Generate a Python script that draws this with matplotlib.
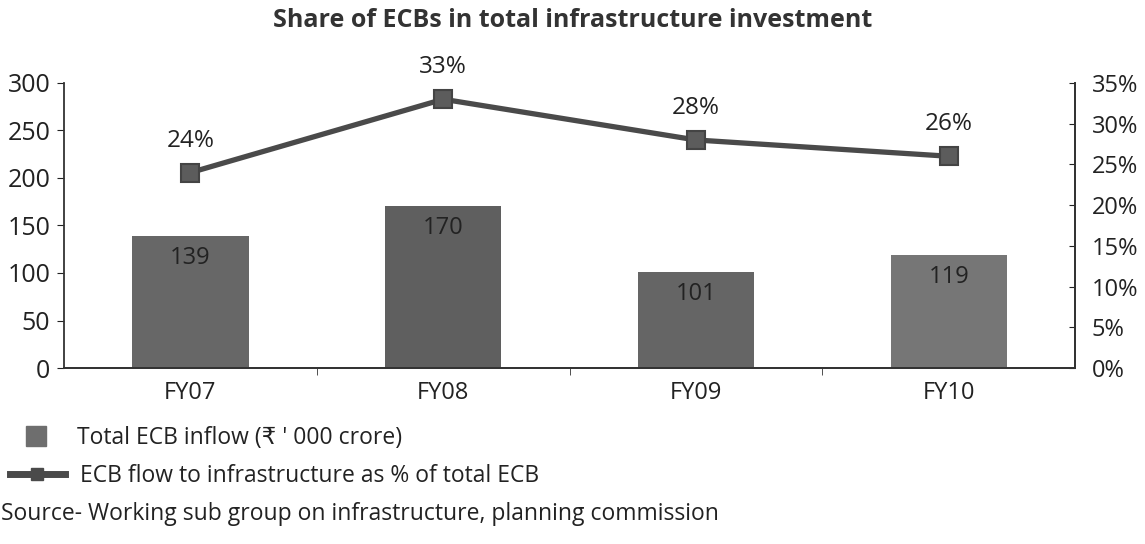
import matplotlib.pyplot as plt
import numpy as np
from matplotlib.lines import Line2D
from matplotlib.ticker import FuncFormatter

plt.rcParams['font.family'] = ['Open Sans', 'DejaVu Sans']

# ── Data ────────────────────────────────────────────────────────────
years = ["FY07", "FY08", "FY09", "FY10"]
ecb_inflow = [139, 170, 101, 119]          # Rs '000 crore
infra_share = [24, 33, 28, 26]             # % of total ECB

bar_colors = ["#676767", "#5f5f5f", "#656565", "#767676"]
line_color = "#4a4a4a"
text_color = "#222222"

# ── Figure ──────────────────────────────────────────────────────────
fig = plt.figure(figsize=(11.45, 5.44), dpi=100)
ax = fig.add_axes([0.056, 0.3235, 0.883, 0.524])
ax2 = ax.twinx()

x = np.arange(len(years))
ax.bar(x, ecb_inflow, width=0.46, color=bar_colors, zorder=2)
for xi, v in zip(x, ecb_inflow):
    ax.text(xi, v - 23, f"{v}", ha="center", va="center", fontsize=17, color=text_color)

ax2.plot(x, infra_share, color=line_color, lw=3.8, marker="s", ms=13,
         markerfacecolor="#5c5c5c", markeredgecolor="#444444", mew=1.5, zorder=3)
for xi, v in zip(x, infra_share):
    ax2.text(xi, v + 3.9, f"{v}%", ha="center", va="center", fontsize=17.5, color=text_color)

# ── Axes formatting ─────────────────────────────────────────────────
ax.set_xlim(-0.5, len(years) - 0.5)
ax.set_ylim(0, 300)
ax.set_yticks(range(0, 301, 50))
ax2.set_ylim(0, 35)
ax2.set_yticks(range(0, 36, 5))
ax2.yaxis.set_major_formatter(FuncFormatter(lambda v, _: f"{v:.0f}%"))

ax.set_xticks(x)
ax.set_xticklabels(years)
ax.set_xticks(x[:-1] + 0.5, minor=True)
ax.tick_params(axis="x", which="major", length=0, pad=9, labelsize=17, colors=text_color)
ax.tick_params(axis="x", which="minor", length=5, direction="out", color="#333333")
ax.tick_params(axis="y", length=5, direction="out", labelsize=18, colors=text_color, pad=5)
ax2.tick_params(axis="y", length=4, direction="in", labelsize=17, colors=text_color, pad=12)

for a in (ax, ax2):
    a.spines["top"].set_visible(False)
    for s in a.spines.values():
        s.set_color("#333333")
        s.set_linewidth(1.3)
ax2.spines["left"].set_visible(False)

fig.text(0.5, 0.963, "Share of ECBs in total infrastructure investment", ha="center", va="center",
         fontsize=18, fontweight="bold", color="#333333")

# ── Legend and source note ──────────────────────────────────────────
bar_handle = Line2D([], [], ls="none", marker="s", ms=15, color="#6e6e6e")
line_handle = Line2D([], [], color=line_color, lw=5, marker="s", ms=8)
leg1 = fig.legend([bar_handle], ["Total ECB inflow (₹ ' 000 crore)"], loc="center left",
                  bbox_to_anchor=(0.0122, 0.195), frameon=False, fontsize=16.5,
                  handlelength=1.9, handletextpad=0.87, borderpad=0, borderaxespad=0)
leg2 = fig.legend([line_handle], ["ECB flow to infrastructure as % of total ECB"], loc="center left",
                  bbox_to_anchor=(0.0087, 0.125), frameon=False, fontsize=16.5,
                  handlelength=2.4, handletextpad=0.65, borderpad=0, borderaxespad=0)
for leg in (leg1, leg2):
    for t in leg.get_texts():
        t.set_color(text_color)

fig.text(0.001, 0.055, "Source- Working sub group on infrastructure, planning commission",
         fontsize=16.5, color=text_color, va="center")

fig.savefig("out.png", dpi=100)
